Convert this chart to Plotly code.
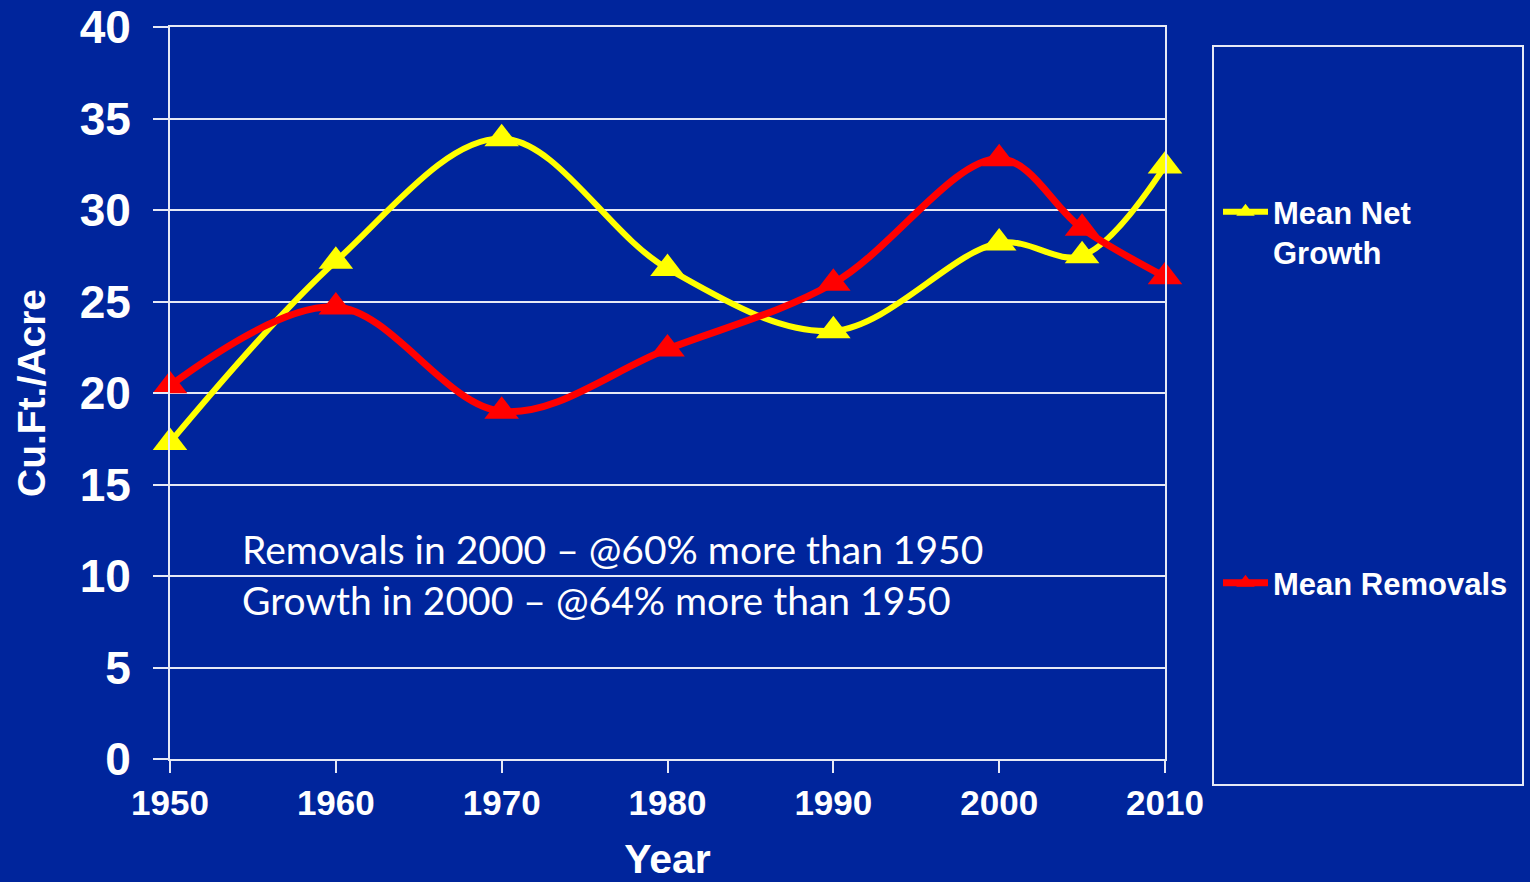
import plotly.graph_objects as go

# Survey years and per-acre volumes (cubic feet per acre)
years = [1950, 1960, 1970, 1980, 1990, 2000, 2005, 2010]
net_growth = [17.3, 27.2, 33.9, 26.8, 23.4, 28.2, 27.5, 32.4]
removals = [20.4, 24.7, 19.0, 22.4, 26.0, 32.8, 29.0, 26.35]

decade_ticks = [1950, 1960, 1970, 1980, 1990, 2000, 2010]
y_ticks = [0, 5, 10, 15, 20, 25, 30, 35, 40]

BG = "#00259C"
WHITE = "#FFFFFF"
GRID = "#E6E9F5"
YELLOW = "#FFFF00"
RED = "#FF0000"
BOLD_FONT = "Liberation Sans, Arial, sans-serif"

fig = go.Figure()

fig.add_trace(go.Scatter(
    x=years, y=net_growth, name="Mean Net<br>Growth",
    mode="lines+markers", line=dict(color=YELLOW, width=6, shape="spline", smoothing=1),
    marker=dict(symbol="triangle-up", size=30, color=YELLOW),
    cliponaxis=False, legend="legend",
))
fig.add_trace(go.Scatter(
    x=years, y=removals, name="Mean Removals",
    mode="lines+markers", line=dict(color=RED, width=7, shape="spline", smoothing=1),
    marker=dict(symbol="triangle-up", size=30, color=RED),
    cliponaxis=False, legend="legend2",
))

W, H = 1530, 882
L, R, T, B = 170, 365, 27, 123

legend_style = dict(
    bgcolor="rgba(0,0,0,0)", borderwidth=0,
    font=dict(family=BOLD_FONT, size=31, color=WHITE, weight="bold"),
    itemwidth=45, xref="container", yref="container",
    xanchor="left", yanchor="top", valign="top",
)

fig.update_layout(
    width=W, height=H,
    margin=dict(l=L, r=R, t=T, b=B, autoexpand=False),
    paper_bgcolor=BG, plot_bgcolor=BG,
    showlegend=True,
    legend=dict(x=1218 / W, y=1 - 185 / H, **legend_style),
    legend2=dict(x=1218 / W, y=1 - 556 / H, **legend_style),
    xaxis=dict(
        range=[1950, 2010], tickvals=decade_ticks,
        ticktext=[str(v) for v in decade_ticks],
        showgrid=False, zeroline=False, automargin=True,
        showline=True, linecolor=GRID, linewidth=2, mirror=True,
        ticks="outside", ticklen=12, tickwidth=2, tickcolor=GRID,
        tickfont=dict(family=BOLD_FONT, size=35, color=WHITE, weight="bold"),
        title=dict(text="Year", standoff=29,
                   font=dict(family=BOLD_FONT, size=41, color=WHITE, weight="bold")),
    ),
    yaxis=dict(
        range=[0, 40], tickvals=y_ticks,
        showgrid=True, gridcolor=GRID, gridwidth=2, zeroline=False, automargin=False,
        showline=True, linecolor=GRID, linewidth=2, mirror=True,
        ticks="outside", ticklen=15, tickwidth=2, tickcolor=GRID,
        ticklabelstandoff=13,
        tickfont=dict(family=BOLD_FONT, size=46, color=WHITE, weight="bold"),
        title=dict(text="Cu.Ft./Acre", standoff=22,
                   font=dict(family=BOLD_FONT, size=39, color=WHITE, weight="bold")),
    ),
)

# Legend frame on the right
fig.add_shape(
    type="rect", xref="paper", yref="paper",
    x0=(1213 - L) / (W - L - R), x1=(1523 - L) / (W - L - R),
    y0=1 - (785 - T) / (H - T - B), y1=1 - (46 - T) / (H - T - B),
    line=dict(color=GRID, width=2), fillcolor="rgba(0,0,0,0)",
)

# Summary note inside the plot
fig.add_annotation(
    xref="paper", yref="paper",
    x=(240 - L) / (W - L - R), y=1 - (574 - T) / (H - T - B),
    xanchor="left", yanchor="middle", align="left", showarrow=False,
    text="Removals in 2000 – @60% more than 1950<br>Growth in 2000 – @64% more than 1950",
    font=dict(family="Lato, Open Sans, sans-serif", size=39, color=WHITE),
)

fig.write_html("out.html")
